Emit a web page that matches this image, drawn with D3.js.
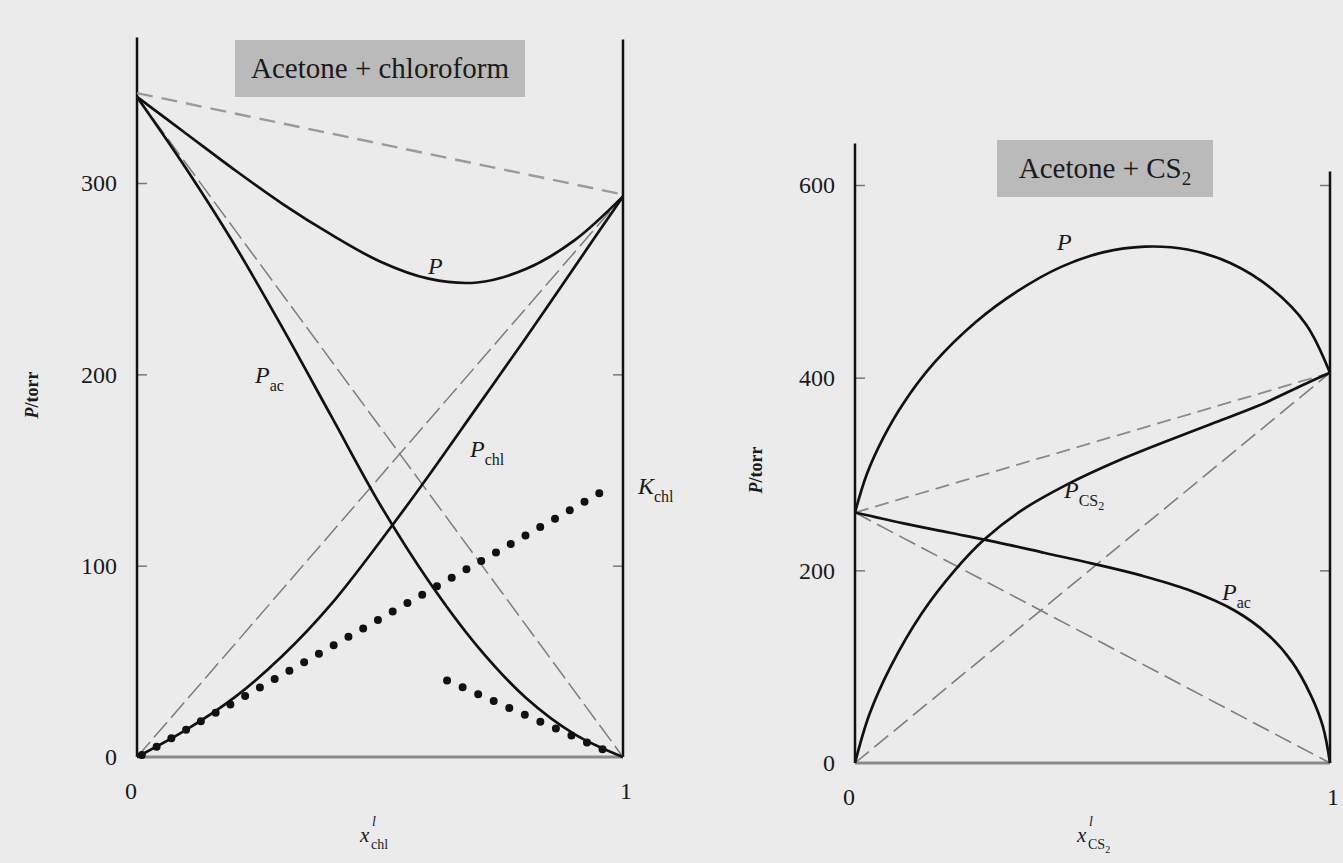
<!DOCTYPE html>
<html>
<head>
<meta charset="utf-8">
<script src="https://cdn.jsdelivr.net/npm/d3@7"></script>
<style>
  html, body { margin: 0; padding: 0; background: #ebebeb; }
  svg { display: block; }
  text { font-family: "Liberation Serif", "DejaVu Serif", serif; fill: #1a1a1a; }
</style>
</head>
<body>
<svg id="chart" width="1343" height="863"></svg>
<script>
// ---- acetone + chloroform (x = mole fraction of chloroform in liquid), torr
const chlTotal = [[0, 345], [0.1, 326], [0.2, 307], [0.3, 289], [0.4, 273], [0.5, 259],
  [0.6, 250], [0.7, 248], [0.8, 255], [0.9, 270], [1, 293]];
const chlAcetone = [[0, 345], [0.1, 308], [0.2, 268], [0.3, 224], [0.4, 178], [0.5, 132],
  [0.6, 92], [0.7, 58], [0.8, 31], [0.9, 12], [1, 0]];
const chlChloro = [[0, 0], [0.1, 14], [0.2, 31], [0.3, 53], [0.4, 80], [0.525, 121],
  [0.6, 147], [0.7, 183], [0.8, 219], [0.9, 256], [1, 293]];
const chlIdealTotal = [[0, 347], [1, 294]];
const chlIdealAcetone = [[0, 345], [1, 0]];
const chlIdealChloro = [[0, 0], [1, 293]];
const chlHenryChloro = [[0.01, 1], [0.98, 142]];
const chlHenryAcetone = [[0.638, 40], [0.985, 1]];
const chlTicks = [100, 200, 300];
const chlRightTicks = [100, 200];

// ---- acetone + CS2 (x = mole fraction of CS2 in liquid), torr
const cs2Total = [[0, 260], [0.025, 300], [0.06, 338], [0.1, 372], [0.166, 415], [0.255, 458],
  [0.343, 490], [0.434, 515], [0.522, 530], [0.61, 536], [0.7, 533], [0.79, 519], [0.878, 492],
  [0.95, 455], [1, 405]];
const cs2Acetone = [[0, 260], [0.1, 249], [0.2, 239], [0.3, 229], [0.4, 218], [0.5, 207],
  [0.6, 195], [0.7, 180], [0.8, 158], [0.87, 133], [0.92, 105], [0.96, 70], [0.985, 38], [1, 0]];
const cs2Cs2 = [[0, 0], [0.03, 50], [0.075, 100], [0.14, 155], [0.21, 200], [0.272, 232],
  [0.35, 262], [0.45, 290], [0.55, 313], [0.65, 333], [0.75, 352], [0.85, 371], [0.95, 394], [1, 405]];
const cs2IdealTotal = [[0, 260], [1, 405]];
const cs2IdealAcetone = [[0, 260], [1, 0]];
const cs2IdealCs2 = [[0, 0], [1, 405]];
const cs2Ticks = [200, 400, 600];
const cs2RightTicks = [200, 600];

const svg = d3.select('#chart');

// scales
const xL = d3.scaleLinear().domain([0, 1]).range([137, 623]);
const yL = d3.scaleLinear().domain([0, 300]).range([757, 183]);
const xR = d3.scaleLinear().domain([0, 1]).range([855, 1330]);
const yR = d3.scaleLinear().domain([0, 600]).range([763, 185]);

function panel(x, y, opts) {
  const g = svg.append('g');

  // title box
  g.append('rect')
    .attr('x', opts.box[0]).attr('y', opts.box[1])
    .attr('width', opts.box[2]).attr('height', opts.box[3])
    .attr('fill', '#bababa');
  const t = g.append('text')
    .attr('x', opts.box[0] + opts.box[2] / 2).attr('y', opts.box[1] + opts.box[3] / 2 + 9)
    .attr('text-anchor', 'middle').attr('font-size', 29);
  opts.title(t);

  // axes
  const left = g.append('g').attr('transform', `translate(${x(0)},0)`)
    .call(d3.axisLeft(y).tickValues(opts.ticks).tickSize(-10).tickPadding(20).tickFormat(d3.format('d')));
  left.select('.domain').remove();
  left.selectAll('.tick line').attr('stroke', '#777').attr('stroke-width', 1.5);
  left.selectAll('.tick text').attr('font-size', 24).attr('fill', '#222')
    .style('font-family', '"Liberation Serif", serif');

  const right = g.append('g').attr('transform', `translate(${x(1)},0)`)
    .call(d3.axisRight(y).tickValues(opts.rightTicks).tickSize(-10).tickFormat(''));
  right.select('.domain').remove();
  right.selectAll('.tick line').attr('stroke', '#777').attr('stroke-width', 1.5);

  g.append('line').attr('x1', x(0)).attr('x2', x(1)).attr('y1', y(0)).attr('y2', y(0))
    .attr('stroke', '#8a8a8a').attr('stroke-width', 3);
  g.append('line').attr('x1', x(0)).attr('x2', x(0)).attr('y1', y(0)).attr('y2', y(opts.leftTop))
    .attr('stroke', '#111').attr('stroke-width', 2.5);
  g.append('line').attr('x1', x(1)).attr('x2', x(1)).attr('y1', y(0)).attr('y2', y(opts.rightTop))
    .attr('stroke', '#111').attr('stroke-width', 2.5);

  // zero labels
  g.append('text').attr('x', x(0) - 20).attr('y', y(0) + 8).attr('text-anchor', 'end')
    .attr('font-size', 24).text('0');
  g.append('text').attr('x', x(0) - 6).attr('y', y(0) + 42).attr('text-anchor', 'middle')
    .attr('font-size', 24).text('0');
  g.append('text').attr('x', x(1) + 3).attr('y', y(0) + 42).attr('text-anchor', 'middle')
    .attr('font-size', 24).text('1');

  // y axis title
  const yt = g.append('text')
    .attr('transform', `translate(${opts.yTitle[0]},${opts.yTitle[1]}) rotate(-90)`)
    .attr('text-anchor', 'middle').attr('font-size', 18).attr('font-weight', 'bold');
  yt.append('tspan').attr('font-style', 'italic').text('P');
  yt.append('tspan').text('/torr');

  return g;
}

const line = d3.line().curve(d3.curveCatmullRom.alpha(0.5));

function draw(g, data, x, y, style) {
  const p = g.append('path')
    .attr('d', line(data.map(d => [x(d[0]), y(d[1])])))
    .attr('fill', 'none')
    .attr('stroke', style.stroke || '#111')
    .attr('stroke-width', style.width || 2.7)
    .attr('stroke-linecap', style.cap || 'butt');
  if (style.dash) p.attr('stroke-dasharray', style.dash);
  return p;
}

function label(g, px, py, main, sub, sub2) {
  const t = g.append('text').attr('x', px).attr('y', py).attr('font-size', 24);
  t.append('tspan').attr('font-style', 'italic').text(main);
  if (sub) t.append('tspan').attr('dy', 8).attr('font-size', 16).text(sub);
  if (sub2) t.append('tspan').attr('dy', 4).attr('font-size', 12).text(sub2);
  return t;
}

// ---------- left panel
const gL = panel(xL, yL, {
  box: [235, 40, 290, 57],
  title: t => t.text('Acetone + chloroform'),
  ticks: chlTicks, rightTicks: chlRightTicks,
  leftTop: 376, rightTop: 375,
  yTitle: [38, 395]
});

draw(gL, chlIdealTotal, xL, yL, { stroke: '#9a9a9a', width: 2.4, dash: '16 9' });
draw(gL, chlIdealAcetone, xL, yL, { stroke: '#7d7d7d', width: 1.5, dash: '20 6' });
draw(gL, chlIdealChloro, xL, yL, { stroke: '#7d7d7d', width: 1.5, dash: '20 6' });
draw(gL, chlTotal, xL, yL, {});
draw(gL, chlAcetone, xL, yL, {});
draw(gL, chlChloro, xL, yL, {});
draw(gL, chlHenryChloro, xL, yL, { width: 8, dash: '0 17', cap: 'round' });
draw(gL, chlHenryAcetone, xL, yL, { width: 8, dash: '0 17', cap: 'round' });

label(gL, 428, 274, 'P');
label(gL, 255, 383, 'P', 'ac');
label(gL, 470, 457, 'P', 'chl');
label(gL, 638, 494, 'K', 'chl');

gL.append('text').attr('x', 360).attr('y', 842).attr('font-size', 21).attr('font-style', 'italic').text('x');
gL.append('text').attr('x', 372).attr('y', 826).attr('font-size', 14).attr('font-style', 'italic').text('l');
gL.append('text').attr('x', 371).attr('y', 849).attr('font-size', 14).text('chl');

// ---------- right panel
const gR = panel(xR, yR, {
  box: [997, 140, 216, 57],
  title: t => {
    t.append('tspan').text('Acetone + CS');
    t.append('tspan').attr('dy', 7).attr('font-size', 19).text('2');
  },
  ticks: cs2Ticks, rightTicks: cs2RightTicks,
  leftTop: 643, rightTop: 614,
  yTitle: [762, 470]
});

draw(gR, cs2IdealTotal, xR, yR, { stroke: '#8a8a8a', width: 1.8, dash: '14 7' });
draw(gR, cs2IdealAcetone, xR, yR, { stroke: '#7d7d7d', width: 1.6, dash: '18 7' });
draw(gR, cs2IdealCs2, xR, yR, { stroke: '#7d7d7d', width: 1.6, dash: '18 7' });
draw(gR, cs2Total, xR, yR, {});
draw(gR, cs2Acetone, xR, yR, {});
draw(gR, cs2Cs2, xR, yR, {});

label(gR, 1057, 250, 'P');
label(gR, 1064, 498, 'P', 'CS', '2');
label(gR, 1222, 600, 'P', 'ac');

gR.append('text').attr('x', 1077).attr('y', 842).attr('font-size', 21).attr('font-style', 'italic').text('x');
gR.append('text').attr('x', 1089).attr('y', 826).attr('font-size', 14).attr('font-style', 'italic').text('l');
const xs = gR.append('text').attr('x', 1088).attr('y', 849).attr('font-size', 14);
xs.append('tspan').text('CS');
xs.append('tspan').attr('dy', 4).attr('font-size', 10).text('2');
</script>
</body>
</html>
